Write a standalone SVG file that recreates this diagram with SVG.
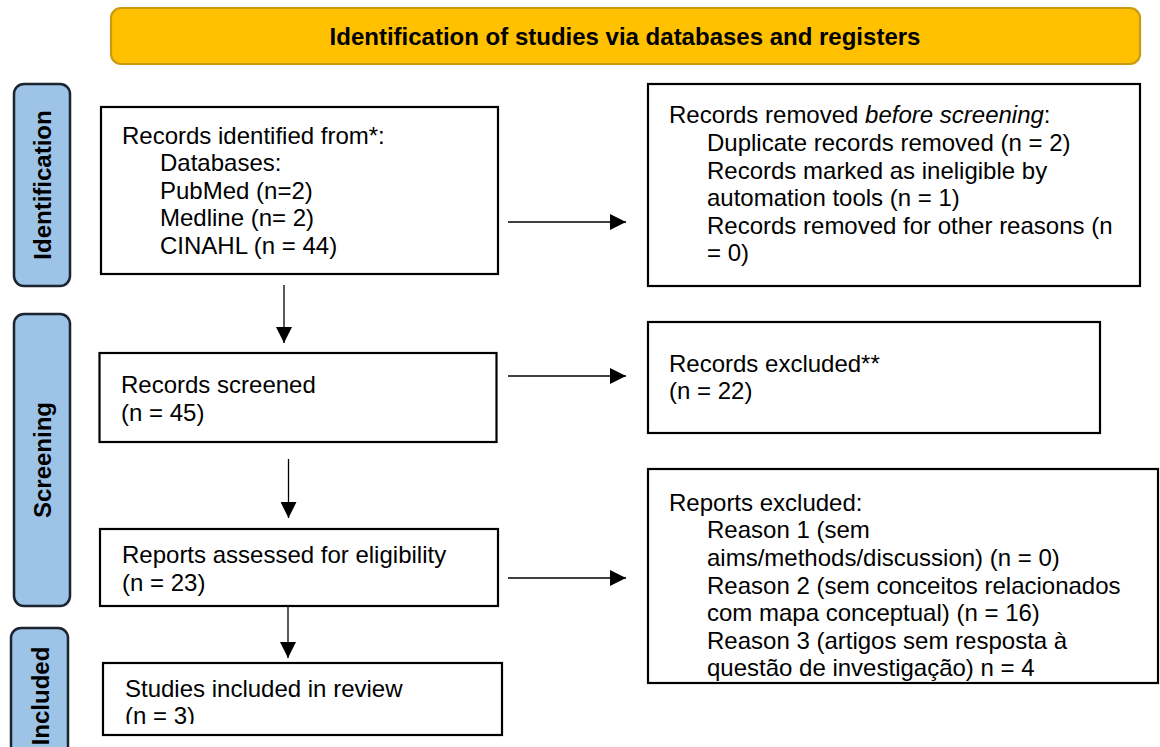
<svg xmlns="http://www.w3.org/2000/svg" width="1160" height="747" viewBox="0 0 1160 747">
<style>
  .box { fill: #ffffff; stroke: #000000; stroke-width: 2.2; }
  .side { fill: #9DC3E6; stroke: #1B2430; stroke-width: 2.5; }
  .banner { fill: #FFC000; stroke: #C99A12; stroke-width: 2.2; }
  .t { font-family: "Liberation Sans", Arial, sans-serif; font-size: 24px; fill: #000000; }
  .b { font-family: "Liberation Sans", Arial, sans-serif; font-size: 24px; font-weight: bold; fill: #000000; }
  .conn { stroke: #000000; stroke-width: 1.3; fill: none; }
</style>
<defs>
  <marker id="arrow" markerUnits="userSpaceOnUse" markerWidth="16" markerHeight="16" refX="16" refY="8" orient="auto">
    <path d="M0,0 L16,8 L0,16 Z" fill="#000000"/>
  </marker>
  <clipPath id="clip7">
    <rect x="100" y="660" width="410" height="64"/>
  </clipPath>
</defs>

<g id="banner">
  <rect class="banner" x="111" y="8" width="1029" height="56" rx="10" ry="10"/>
  <text class="b" x="625" y="45" text-anchor="middle">Identification of studies via databases and registers</text>
</g>

<g id="side-identification">
  <rect class="side" x="14" y="84" width="56" height="202" rx="10" ry="10"/>
  <text class="b" transform="translate(51,185) rotate(-90)" text-anchor="middle">Identification</text>
</g>
<g id="side-screening">
  <rect class="side" x="14" y="314" width="56" height="292" rx="10" ry="10"/>
  <text class="b" transform="translate(51,460) rotate(-90)" text-anchor="middle">Screening</text>
</g>
<g id="side-included">
  <rect class="side" x="11" y="628" width="57" height="140" rx="10" ry="10"/>
  <text class="b" transform="translate(49,696) rotate(-90)" text-anchor="middle">Included</text>
</g>

<g id="node-identified">
  <rect class="box" x="101" y="107" width="397" height="167"/>
  <text class="t" x="122" y="143.5">Records identified from*:</text>
  <text class="t" x="160" y="171">Databases:</text>
  <text class="t" x="160" y="198.6">PubMed (n=2)</text>
  <text class="t" x="160" y="226.2">Medline (n= 2)</text>
  <text class="t" x="160" y="253.8">CINAHL (n = 44)</text>
</g>

<g id="node-removed">
  <rect class="box" x="648" y="84" width="492" height="202"/>
  <text class="t" x="669" y="123.3">Records removed <tspan font-style="italic">before screening</tspan>:</text>
  <text class="t" x="707" y="150.9">Duplicate records removed (n = 2)</text>
  <text class="t" x="707" y="178.5">Records marked as ineligible by</text>
  <text class="t" x="707" y="206.1">automation tools (n = 1)</text>
  <text class="t" x="707" y="233.7">Records removed for other reasons (n</text>
  <text class="t" x="707" y="261.3">= 0)</text>
</g>

<g id="node-screened">
  <rect class="box" x="99.5" y="353" width="397" height="89"/>
  <text class="t" x="121" y="393.3">Records screened</text>
  <text class="t" x="121" y="421">(n = 45)</text>
</g>

<g id="node-excluded">
  <rect class="box" x="648" y="322" width="452" height="111"/>
  <text class="t" x="669" y="371.5">Records excluded**</text>
  <text class="t" x="669" y="399">(n = 22)</text>
</g>

<g id="node-assessed">
  <rect class="box" x="100" y="529" width="398" height="77"/>
  <text class="t" x="122" y="563">Reports assessed for eligibility</text>
  <text class="t" x="122" y="590.6">(n = 23)</text>
</g>

<g id="node-reports-excluded">
  <rect class="box" x="648" y="469" width="510" height="214"/>
  <text class="t" x="669" y="510.7">Reports excluded:</text>
  <text class="t" x="707" y="538.3">Reason 1 (sem</text>
  <text class="t" x="707" y="565.9">aims/methods/discussion) (n = 0)</text>
  <text class="t" x="707" y="593.5">Reason 2 (sem conceitos relacionados</text>
  <text class="t" x="707" y="621.1">com mapa conceptual) (n = 16)</text>
  <text class="t" x="707" y="648.7">Reason 3 (artigos sem resposta à</text>
  <text class="t" x="707" y="676.3">questão de investigação) n = 4</text>
</g>

<g id="node-included">
  <rect class="box" x="103" y="663" width="399" height="72"/>
  <g clip-path="url(#clip7)">
    <text class="t" x="125" y="696.7">Studies included in review</text>
    <text class="t" x="125" y="724.3">(n = 3)</text>
  </g>
</g>

<g id="connectors">
  <line class="conn" x1="284" y1="285" x2="284" y2="343" marker-end="url(#arrow)"/>
  <line class="conn" x1="508" y1="222" x2="626" y2="222" marker-end="url(#arrow)"/>
  <line class="conn" x1="508" y1="376" x2="626" y2="376" marker-end="url(#arrow)"/>
  <line class="conn" x1="288.5" y1="459" x2="288.5" y2="518" marker-end="url(#arrow)"/>
  <line class="conn" x1="508" y1="578" x2="626" y2="578" marker-end="url(#arrow)"/>
  <line class="conn" x1="288" y1="606" x2="288" y2="658" marker-end="url(#arrow)"/>
</g>
</svg>
